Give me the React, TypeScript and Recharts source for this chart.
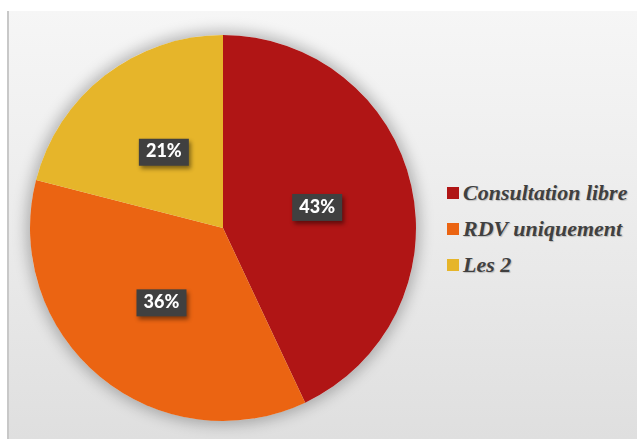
import { PieChart, Pie, Cell, Legend } from "recharts";

const categories = ["Consultation libre", "RDV uniquement", "Les 2"];
const shares = [43, 36, 21];
const colors = ["#B01515", "#EB6412", "#E6B52A"];

const data = categories.map((name, i) => ({ name, value: shares[i] }));

const RADIAN = Math.PI / 180;

function renderLabel(props: any) {
  const { cx, cy, midAngle, outerRadius, value } = props;
  const r = outerRadius * 0.5;
  const x = cx + r * Math.cos(-midAngle * RADIAN);
  const y = cy + r * Math.sin(-midAngle * RADIAN);
  return (
    <g style={{ filter: "drop-shadow(2px 3px 2px rgba(0,0,0,0.45))" }}>
      <rect x={x - 25} y={y - 13} width={50} height={27} fill="#404040" />
      <text
        x={x}
        y={y + 1}
        fill="#ffffff"
        textAnchor="middle"
        dominantBaseline="middle"
        fontFamily="Lato, 'DejaVu Sans', sans-serif"
        fontWeight={900}
        fontSize={18}
      >
        {value}%
      </text>
    </g>
  );
}

function renderLegend() {
  return (
    <div>
      {categories.map((c, i) => (
        <div
          key={c}
          style={{ display: "flex", alignItems: "center", height: 36 }}
        >
          <span
            style={{
              width: 12,
              height: 12,
              background: colors[i],
              marginRight: 4,
              display: "inline-block",
              flex: "none",
            }}
          />
          <span
            style={{
              fontFamily: "'Liberation Serif', 'Times New Roman', serif",
              fontStyle: "italic",
              fontWeight: 700,
              fontSize: 22,
              color: "#404040",
              whiteSpace: "nowrap",
              textShadow: "1px 1px 1px rgba(0,0,0,0.2)",
            }}
          >
            {c}
          </span>
        </div>
      ))}
    </div>
  );
}

export default function App() {
  return (
    <div
      style={{
        position: "absolute",
        left: 0,
        top: 0,
        width: 637,
        height: 439,
        background: "#ffffff",
        overflow: "hidden",
      }}
    >
      <div
        style={{
          position: "absolute",
          left: 7,
          top: 11,
          width: 630,
          height: 428,
          borderLeft: "2px solid #c8c8c8",
          background: "linear-gradient(180deg, #f6f6f6 0%, #e9e9e9 60%, #dfdfdf 100%)",
        }}
      />
      <div
        style={{
          position: "absolute",
          left: 223 - 193,
          top: 228 - 193,
          width: 386,
          height: 386,
          borderRadius: "50%",
          boxShadow: "0 0 14px 4px rgba(0,0,0,0.25)",
        }}
      />
      <div style={{ position: "absolute", left: 0, top: 0 }}>
        <PieChart
          width={637}
          height={439}
          margin={{ top: 0, right: 0, bottom: 0, left: 0 }}
        >
          <Pie
            data={data}
            dataKey="value"
            nameKey="name"
            cx={223}
            cy={228}
            outerRadius={193}
            startAngle={90}
            endAngle={-270}
            stroke="none"
            label={renderLabel}
            labelLine={false}
            isAnimationActive={false}
          >
            {data.map((d, i) => (
              <Cell key={d.name} fill={colors[i]} />
            ))}
          </Pie>
          <Legend
            content={renderLegend}
            wrapperStyle={{ position: "absolute", left: 447, top: 175, width: 190 }}
          />
        </PieChart>
      </div>
    </div>
  );
}
